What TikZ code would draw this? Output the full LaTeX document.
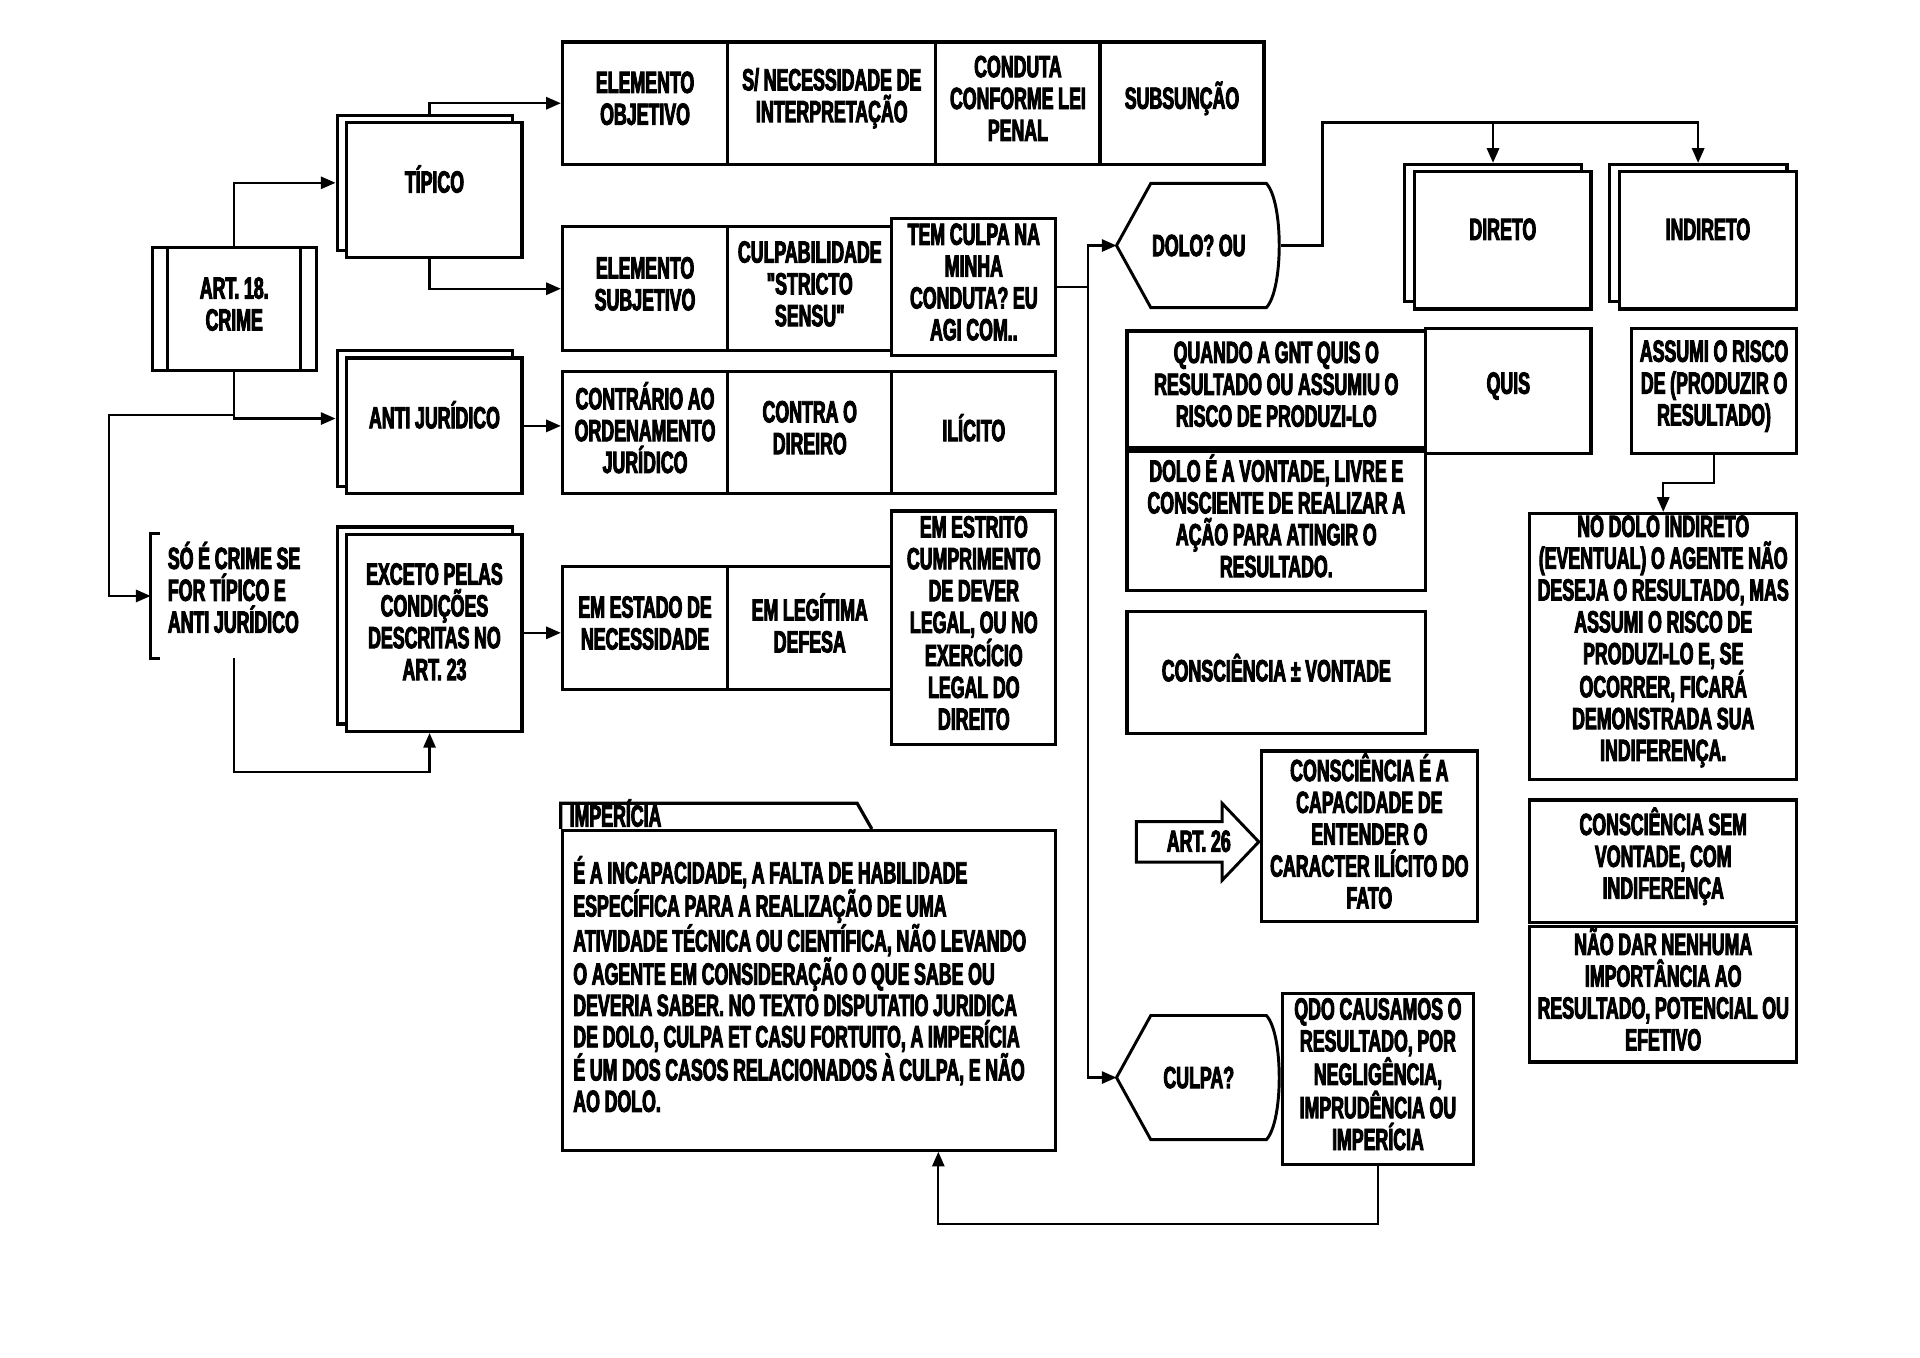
\documentclass[tikz,border=0pt]{standalone}
\usepackage{fontspec}
\setmainfont[FakeStretch=0.58,FakeBold=3,WordSpace=0.95,Ligatures=TeXOff]{Liberation Sans Bold}
\usetikzlibrary{arrows.meta}
\newcommand\fnt{\fontsize{25pt}{26pt}\selectfont}
\tikzset{
  bx/.style={draw, line width=2.6pt, fill=white, inner sep=0pt, anchor=north west},
  bk/.style={draw, line width=2.6pt, fill=white},
  conn/.style={line width=1.8pt, -{Triangle[length=12pt,width=10pt]}},
  txt/.style={font=\fnt, align=center, inner sep=0pt},
}
\newcommand\bxat[6]{%
  \node[bx,minimum width=#4pt,minimum height=#5pt] (#1) at (#2,#3) {};
  \node[txt] (#1T) at ([yshift=4pt]#1.center) {#6};}
\newcommand\stackbx[6]{%
  \node[bk,minimum width=#4pt,minimum height=#5pt,anchor=north west] (#1B) at (#2-8,#3-6) {};
  \node[bk,minimum width=#4pt,minimum height=#5pt,anchor=north west] (#1) at (#2,#3) {};
  \node[txt] (#1T) at ([yshift=9pt]#1.center) {#6};}
\newcommand\dispshape[1]{%
  \draw[line width=2.4pt] (#1.west) -- ([xshift=28pt]#1.north west) -- ([xshift=-12pt]#1.north east)
   .. controls ([shift={(2pt,-15pt)}]#1.north east) and ([shift={(2pt,15pt)}]#1.south east) .. ([xshift=-12pt]#1.south east)
   -- ([xshift=28pt]#1.south west) -- cycle;}
\begin{document}
\begin{tikzpicture}[x=1pt,y=-1pt]
\useasboundingbox[fill=white] (0,0) rectangle (1568,1109);

% left column
\bxat{art18}{123}{201}{134}{100}{ART. 18.\\CRIME}
\draw[line width=2.4pt] ([xshift=14pt]art18.north west) -- ([xshift=14pt]art18.south west);
\draw[line width=2.4pt] ([xshift=-14pt]art18.north east) -- ([xshift=-14pt]art18.south east);
\stackbx{tipico}{282}{99}{143}{110}{TÍPICO}
\stackbx{anti}{282}{291}{143}{111}{ANTI JURÍDICO}
\stackbx{exc}{282}{435}{143}{161}{EXCETO PELAS\\CONDIÇÕES\\DESCRITAS NO\\ART. 23}
\node[inner sep=0pt, minimum width=136pt, minimum height=101pt, anchor=north west] (soe) at (123,436) {};
\node[font=\fnt, align=left, inner sep=0pt] (soeT) at ([yshift=7pt]soe.center) {SÓ É CRIME SE\\FOR TÍPICO E\\ANTI JURÍDICO};
\draw[line width=2.4pt] ([xshift=8pt]soe.north west) -| (soe.south west) -- ++(8,0);

% middle rows
\bxat{eo}{458}{33}{135}{100}{ELEMENTO\\OBJETIVO}
\bxat{sn}{593}{33}{170}{100}{S/ NECESSIDADE DE\\INTERPRETAÇÃO}
\bxat{cc}{763}{33}{134}{100}{CONDUTA\\CONFORME LEI\\PENAL}
\bxat{sub}{897}{33}{134}{100}{SUBSUNÇÃO}

\bxat{es}{458}{184}{135}{101}{ELEMENTO\\SUBJETIVO}
\bxat{cul}{593}{184}{134}{101}{CULPABILIDADE\\"STRICTO\\SENSU"}
\bxat{tem}{727}{177}{134}{112}{TEM CULPA NA\\MINHA\\CONDUTA? EU\\AGI COM..}

\bxat{ctr}{458}{302}{135}{100}{CONTRÁRIO AO\\ORDENAMENTO\\JURÍDICO}
\bxat{cd}{593}{302}{134}{100}{CONTRA O\\DIREIRO}
\bxat{ili}{727}{302}{134}{100}{ILÍCITO}

\bxat{nec}{458}{461}{135}{101}{EM ESTADO DE\\NECESSIDADE}
\bxat{leg}{593}{461}{134}{101}{EM LEGÍTIMA\\DEFESA}
\bxat{est}{727}{416}{134}{191}{EM ESTRITO\\CUMPRIMENTO\\DE DEVER\\LEGAL, OU NO\\EXERCÍCIO\\LEGAL DO\\DIREITO}

% imperícia
\draw[bk] (458,677) -- (458,656) -- (700,656) -- (712,677);
\node[font=\fnt, anchor=base west, inner sep=0pt] (tabt) at (465,675) {IMPERÍCIA};
\node[draw, line width=2.6pt, fill=white, anchor=north west, minimum width=403pt, minimum height=261pt, inner sep=0pt] (imp) at (458,677) {};
\node[font=\fontsize{25pt}{25.6pt}\selectfont, align=left, inner sep=0pt, anchor=north west] (impT) at (468,699) {É A INCAPACIDADE, A FALTA DE HABILIDADE\\ESPECÍFICA PARA A REALIZAÇÃO DE UMA\\ATIVIDADE TÉCNICA OU CIENTÍFICA, NÃO LEVANDO\\O AGENTE EM CONSIDERAÇÃO O QUE SABE OU\\DEVERIA SABER. NO TEXTO DISPUTATIO JURIDICA\\DE DOLO, CULPA ET CASU FORTUITO, A IMPERÍCIA\\É UM DOS CASOS RELACIONADOS À CULPA, E NÃO\\AO DOLO.};

% dolo / culpa
\node[txt, minimum width=134pt, minimum height=101pt] (dolo) at (979,200.5) {DOLO? OU};
\dispshape{dolo}
\node[txt, minimum width=134pt, minimum height=101pt] (culpa) at (979,880) {CULPA?};
\dispshape{culpa}

\stackbx{dir}{1154}{139}{144}{112}{DIRETO}
\stackbx{ind}{1321}{139}{145}{112}{INDIRETO}

\bxat{quando}{919}{269}{244}{95}{QUANDO A GNT QUIS O\\RESULTADO OU ASSUMIU O\\RISCO DE PRODUZI-LO}
\bxat{quis}{1163}{267}{135}{102}{QUIS}
\bxat{dolov}{919}{367}{244}{114}{DOLO É A VONTADE, LIVRE E\\CONSCIENTE DE REALIZAR A\\AÇÃO PARA ATINGIR O\\RESULTADO.}
\bxat{consc}{919}{498}{244}{100}{CONSCIÊNCIA ± VONTADE}
\bxat{assumi}{1331}{267}{135}{102}{ASSUMI O RISCO\\DE (PRODUZIR O\\RESULTADO)}
\bxat{nodolo}{1248}{418}{218}{217}{NO DOLO INDIRETO\\(EVENTUAL) O AGENTE NÃO\\DESEJA O RESULTADO, MAS\\ASSUMI O RISCO DE\\PRODUZI-LO E, SE\\OCORRER, FICARÁ\\DEMONSTRADA SUA\\INDIFERENÇA.}
\bxat{semv}{1248}{652}{218}{100}{CONSCIÊNCIA SEM\\VONTADE, COM\\INDIFERENÇA}
\bxat{naodar}{1248}{755}{218}{111}{NÃO DAR NENHUMA\\IMPORTÂNCIA AO\\RESULTADO, POTENCIAL OU\\EFETIVO}
\bxat{conse}{1029}{612}{176}{139}{CONSCIÊNCIA É A\\CAPACIDADE DE\\ENTENDER O\\CARACTER ILÍCITO DO\\FATO}
\bxat{qdo}{1046}{810}{156}{140}{QDO CAUSAMOS O\\RESULTADO, POR\\NEGLIGÊNCIA,\\IMPRUDÊNCIA OU\\IMPERÍCIA}

% art 26 arrow
\draw[line width=2.4pt, fill=white] (928,671) -- (998,671) -- (998,656) -- (1028,687.5) -- (998,719) -- (998,704) -- (928,704) -- cycle;
\node[txt] (art26) at (979,687) {ART. 26};

% connectors
\draw[conn] (art18.north) |- (tipicoB.west);
\draw[conn] ([xshift=4pt]tipicoB.north) |- (eo.west);
\draw[conn] ([xshift=-4pt]tipico.south) |- (es.west);
\draw[conn] (art18.south) |- (antiB.west);
\path (art18.south) ++(0,35) coordinate (j1);
\draw[conn] (j1) -- ++(-102,0) |- (soe.west);
\draw[conn] (soe.south) -- ++(0,93) -| ([xshift=-4pt]exc.south);
\draw[conn] (anti.east) -- (anti.east -| ctr.west);
\draw[conn] (exc.east) -- (exc.east -| nec.west);
\draw[conn] (tem.east) -- ++(25,0) |- (dolo.west);
\draw[conn] (tem.east) -- ++(25,0) |- (culpa.west);
\coordinate (bus) at (1080,100);
\draw[conn] (dolo.east) -| (bus) -| (dirB.north);
\draw[conn] (bus) -| (indB.north);
\draw[conn] (assumi.south) -- ++(0,23) -| (nodolo.north);
\draw[conn] (qdo.south) -- ++(0,47) -| ([xshift=105.5pt]imp.south);
\end{tikzpicture}
\end{document}
